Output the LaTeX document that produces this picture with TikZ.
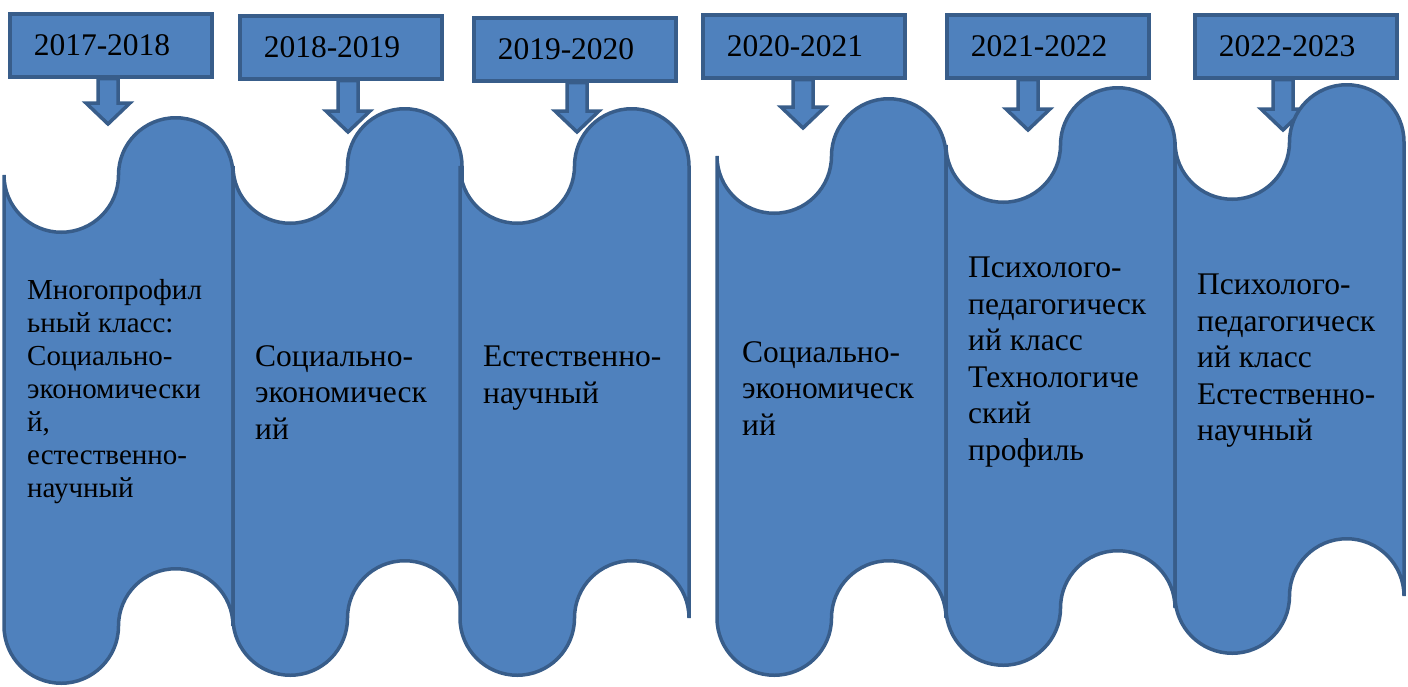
\documentclass[tikz,border=0pt]{standalone}
\usepackage{fontspec}
\setmainfont{Liberation Serif}
\usepackage{tikz}
\usetikzlibrary{calc}
\definecolor{mblue}{HTML}{4F81BD}
\definecolor{mdark}{HTML}{385D8A}

% wavy banner: left x, top line y, bottom line y (picture coords, y down)
\newcommand{\wavepanel}[3]{%
  \draw[panel] (#1,#2) arc[start angle=180, end angle=0, radius=57.25]
    arc[start angle=180, end angle=360, radius=57.25] -- (#1+229,#3)
    arc[start angle=0, end angle=-180, radius=57.25]
    arc[start angle=0, end angle=180, radius=57.25] -- cycle;}

% block arrow from a year box down to a tip
\newcommand{\blockarrow}[2]{%
  \draw[panel] ($(#1.south -| #2)+(-10,0)$) -- ($(#2)+(-10,-21)$) -- ($(#2)+(-22,-21)$) -- (#2)
    -- ($(#2)+(22,-21)$) -- ($(#2)+(10,-21)$) -- ($(#1.south -| #2)+(10,0)$) -- cycle;}

\begin{document}
\begin{tikzpicture}[x=1pt, y=-1pt,
    panel/.style={draw=mdark, fill=mblue, line width=3.5pt},
    yearbox/.style={panel, anchor=north west, minimum height=63pt, text width=154pt,
      inner xsep=24pt, inner ysep=0pt, align=left, font=\fontsize{31.5}{36}\selectfont},
    txt/.style={anchor=north west, inner sep=0pt, align=left, font=\fontsize{31.5}{36.5}\selectfont}]

            \useasboundingbox (0,0) rectangle (1408,686);

            \node[yearbox] (y1) at (8,12) {2017-2018};
            \node[yearbox] (y2) at (238,14) {2018-2019};
            \node[yearbox] (y3) at (472,16) {2019-2020};
            \node[yearbox] (y4) at (701,13) {2020-2021};
            \node[yearbox] (y5) at (945,13) {2021-2022};
            \node[yearbox] (y6) at (1193,13) {2022-2023};

            \coordinate (t1) at (108,124);
            \coordinate (t2) at (348,132);
            \coordinate (t3) at (577,132);
            \coordinate (t4) at (803,128);
            \coordinate (t5) at (1028,130);
            \coordinate (t6) at (1283,130);

            \blockarrow{y1}{t1}
            \blockarrow{y2}{t2}
            \blockarrow{y3}{t3}
            \blockarrow{y4}{t4}
            \blockarrow{y5}{t5}
            \blockarrow{y6}{t6}

            \wavepanel{4}{175}{626}
            \wavepanel{233}{166}{618}
            \wavepanel{460}{166}{618}
            \wavepanel{717}{156}{618}
            \wavepanel{946}{145}{608}
            \wavepanel{1175}{142}{596}

            \node[txt, font=\fontsize{29}{33}\selectfont] (p1) at (27,279)
              {Многопрофил\\ьный класс:\\Социально-\\экономически\\й,\\естественно-\\научный};
            \node[txt] (p2) at (255,345) {Социально-\\экономическ\\ий};
            \node[txt] (p3) at (483,346) {Естественно-\\научный};
            \node[txt] (p4) at (742,341) {Социально-\\экономическ\\ий};
            \node[txt] (p5) at (968,257) {Психолого-\\педагогическ\\ий класс\\Технологиче\\ский\\профиль};
            \node[txt] (p6) at (1197,274) {Психолого-\\педагогическ\\ий класс\\Естественно-\\научный};

          \end{tikzpicture}
\end{document}
